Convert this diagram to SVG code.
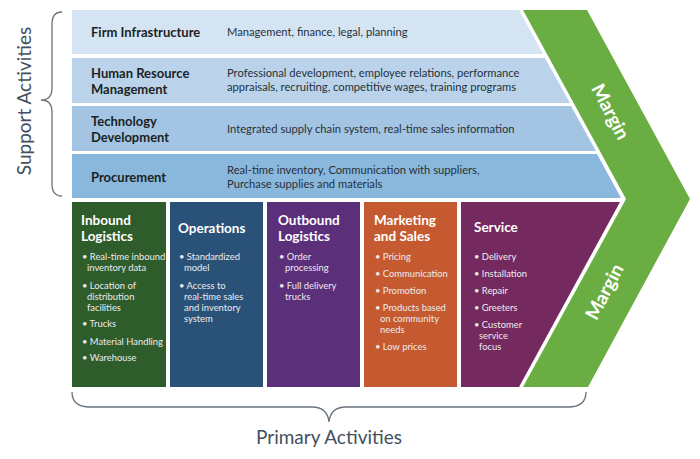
<svg xmlns="http://www.w3.org/2000/svg" width="700" height="459" viewBox="0 0 700 459">
<style>
.bg{fill:#ffffff}
.st{font-family:Lato,"Liberation Sans",Arial,sans-serif;font-weight:bold;font-size:13px;fill:#1b1f24}
.sd{font-family:Lato,"Liberation Sans",Arial,sans-serif;font-size:11.2px;fill:#26313b}
.pt{font-family:Lato,"Liberation Sans",Arial,sans-serif;font-weight:bold;font-size:13.5px;fill:#ffffff}
.pb{font-family:Lato,"Liberation Sans",Arial,sans-serif;font-size:9.4px;fill:#ecebee}
.mg{font-family:Lato,"Liberation Sans",Arial,sans-serif;font-weight:bold;font-size:19px;fill:#ffffff}
.lbl{font-family:Lato,"Liberation Sans",Arial,sans-serif;font-size:19px;fill:#44505e}
.br{fill:none;stroke:#6a737d;stroke-width:1.3}
</style>
<rect class="bg" x="0" y="0" width="700" height="459"/>

<g id="margin">
<polygon points="523,10 587,10 690,199 588,387 523,387 626,199" fill="#6aad43"/>
<text class="mg" text-anchor="middle" transform="translate(610,112) rotate(62.5)" y="6">Margin</text>
<text class="mg" text-anchor="middle" transform="translate(605,292) rotate(-62.5)" y="6">Margin</text>
</g>

<g id="firm-infrastructure">
<polygon points="72,10 519,10 543,54 72,54" fill="#d4e4f2"/>
<text class="st" x="91" y="37">Firm Infrastructure</text>
<text class="sd" x="227" y="36">Management, finance, legal, planning</text>
</g>

<g id="human-resource">
<polygon points="72,58 545,58 570,103 72,103" fill="#bad3ea"/>
<text class="st" x="91" y="78">Human Resource</text>
<text class="st" x="91" y="94">Management</text>
<text class="sd" x="227" y="77">Professional development, employee relations, performance</text>
<text class="sd" x="227" y="91">appraisals, recruiting, competitive wages, training programs</text>
</g>

<g id="technology-development">
<polygon points="72,106 571,106 596,151 72,151" fill="#a3c5e3"/>
<text class="st" x="91" y="126">Technology</text>
<text class="st" x="91" y="142">Development</text>
<text class="sd" x="227" y="133">Integrated supply chain system, real-time sales information</text>
</g>

<g id="procurement">
<polygon points="72,154 597,154 621,198 72,198" fill="#8ab8dd"/>
<text class="st" x="91" y="182">Procurement</text>
<text class="sd" x="227" y="174">Real-time inventory, Communication with suppliers,</text>
<text class="sd" x="227" y="188">Purchase supplies and materials</text>
</g>

<g id="inbound-logistics">
<rect x="72" y="202" width="94" height="185" fill="#2f5c2b"/>
<text class="pt" x="81" y="225">Inbound</text>
<text class="pt" x="81" y="241">Logistics</text>
<text class="pb" x="82" y="260">• Real-time inbound</text>
<text class="pb" x="87" y="271">inventory data</text>
<text class="pb" x="82" y="289">• Location of</text>
<text class="pb" x="87" y="300">distribution</text>
<text class="pb" x="87" y="311">facilities</text>
<text class="pb" x="82" y="327">• Trucks</text>
<text class="pb" x="82" y="345">• Material Handling</text>
<text class="pb" x="82" y="361">• Warehouse</text>
</g>

<g id="operations">
<rect x="170" y="202" width="93" height="185" fill="#2a5279"/>
<text class="pt" x="178" y="233">Operations</text>
<text class="pb" x="179" y="260">• Standardized</text>
<text class="pb" x="184" y="271">model</text>
<text class="pb" x="179" y="289">• Access to</text>
<text class="pb" x="184" y="300">real-time sales</text>
<text class="pb" x="184" y="311">and inventory</text>
<text class="pb" x="184" y="322">system</text>
</g>

<g id="outbound-logistics">
<rect x="267" y="202" width="93" height="185" fill="#5c2f7b"/>
<text class="pt" x="278" y="225">Outbound</text>
<text class="pt" x="278" y="241">Logistics</text>
<text class="pb" x="279" y="260">• Order</text>
<text class="pb" x="285" y="271">processing</text>
<text class="pb" x="279" y="289">• Full delivery</text>
<text class="pb" x="285" y="300">trucks</text>
</g>

<g id="marketing-and-sales">
<rect x="364" y="202" width="93" height="185" fill="#c55a30"/>
<text class="pt" x="374" y="225">Marketing</text>
<text class="pt" x="374" y="241">and Sales</text>
<text class="pb" x="375" y="260">• Pricing</text>
<text class="pb" x="375" y="277">• Communication</text>
<text class="pb" x="375" y="294">• Promotion</text>
<text class="pb" x="375" y="311">• Products based</text>
<text class="pb" x="380" y="322">on community</text>
<text class="pb" x="380" y="333">needs</text>
<text class="pb" x="375" y="350">• Low prices</text>
</g>

<g id="service">
<polygon points="461,202 620,202 519,387 461,387" fill="#74295f"/>
<text class="pt" x="474" y="232">Service</text>
<text class="pb" x="474" y="260">• Delivery</text>
<text class="pb" x="474" y="277">• Installation</text>
<text class="pb" x="474" y="294">• Repair</text>
<text class="pb" x="474" y="311">• Greeters</text>
<text class="pb" x="474" y="328">• Customer</text>
<text class="pb" x="479" y="339">service</text>
<text class="pb" x="479" y="350">focus</text>
</g>

<g id="connectors">
<path class="br" d="M62,12 C55,12 52,16 52,24 L52,88 C52,96 48,100 41,100 C48,100 52,104 52,112 L52,184 C52,192 55,196 62,196"/>
<path class="br" d="M72,392 C72,402 78,407 90,407 L312,407 C322,407 328,412 329,422 C330,412 336,407 346,407 L568,407 C580,407 586,402 586,392"/>
</g>

<g id="labels">
<text class="lbl" text-anchor="middle" font-size="20" transform="translate(31,101) rotate(-90)">Support Activities</text>
<text class="lbl" x="329" y="444" text-anchor="middle">Primary Activities</text>
</g>
</svg>
